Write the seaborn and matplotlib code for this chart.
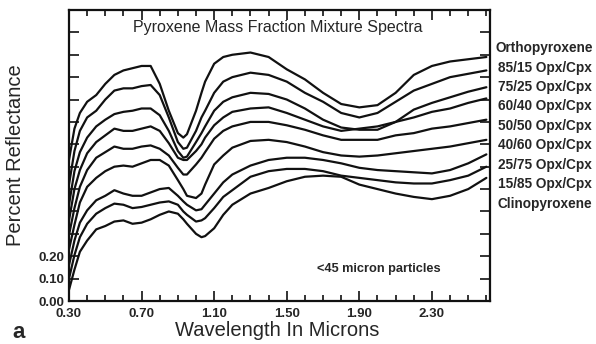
import matplotlib
matplotlib.use("Agg")
import matplotlib.pyplot as plt
from matplotlib.ticker import MultipleLocator
import pandas as pd
import seaborn as sns

# Wavelength grid (microns)
wavelength = [0.30, 0.33, 0.36, 0.40, 0.45, 0.50, 0.55, 0.60, 0.65, 0.70,
              0.75, 0.80, 0.85, 0.90, 0.93, 0.95, 1.00, 1.03, 1.05, 1.10,
              1.15, 1.20, 1.30, 1.40, 1.50, 1.60, 1.70, 1.80, 1.90, 2.00,
              2.10, 2.20, 2.30, 2.40, 2.50, 2.60]

# Reflectance of each mixture (Opx/Cpx mass fraction), top to bottom
orthopyroxene = [0.63, 0.77, 0.84, 0.89, 0.92, 0.97, 1.01, 1.03, 1.04, 1.05,
                 1.05, 0.97, 0.85, 0.75, 0.73, 0.745, 0.85, 0.93, 0.98, 1.06,
                 1.09, 1.10, 1.11, 1.09, 1.035, 0.99, 0.93, 0.88, 0.865, 0.875,
                 0.93, 1.01, 1.05, 1.07, 1.08, 1.09]
opx85_cpx15 = [0.52, 0.67, 0.76, 0.82, 0.85, 0.90, 0.94, 0.95, 0.95, 0.96,
               0.965, 0.92, 0.82, 0.71, 0.68, 0.685, 0.76, 0.82, 0.85, 0.93,
               0.98, 1.00, 1.02, 1.01, 0.98, 0.93, 0.89, 0.84, 0.82, 0.84,
               0.89, 0.94, 0.97, 1.00, 1.015, 1.03]
opx75_cpx25 = [0.43, 0.58, 0.665, 0.73, 0.78, 0.81, 0.835, 0.845, 0.85, 0.86,
               0.86, 0.83, 0.76, 0.67, 0.64, 0.645, 0.71, 0.75, 0.78, 0.85,
               0.89, 0.91, 0.93, 0.925, 0.90, 0.86, 0.81, 0.775, 0.765, 0.765,
               0.80, 0.855, 0.885, 0.91, 0.935, 0.955]
opx60_cpx40 = [0.36, 0.50, 0.585, 0.66, 0.71, 0.74, 0.77, 0.76, 0.76, 0.77,
               0.78, 0.76, 0.705, 0.64, 0.63, 0.63, 0.67, 0.70, 0.73, 0.785,
               0.82, 0.845, 0.86, 0.865, 0.84, 0.81, 0.78, 0.76, 0.77, 0.78,
               0.80, 0.82, 0.845, 0.86, 0.885, 0.905]
opx50_cpx50 = [0.295, 0.415, 0.51, 0.585, 0.64, 0.665, 0.69, 0.68, 0.68, 0.69,
               0.695, 0.68, 0.65, 0.595, 0.565, 0.565, 0.61, 0.64, 0.665, 0.725,
               0.76, 0.78, 0.80, 0.80, 0.785, 0.765, 0.74, 0.72, 0.72, 0.72,
               0.74, 0.75, 0.77, 0.78, 0.795, 0.81]
opx40_cpx60 = [0.23, 0.34, 0.44, 0.51, 0.55, 0.58, 0.60, 0.605, 0.60, 0.615,
               0.63, 0.63, 0.605, 0.54, 0.50, 0.47, 0.46, 0.48, 0.52, 0.61,
               0.65, 0.685, 0.715, 0.72, 0.71, 0.69, 0.665, 0.65, 0.645, 0.65,
               0.66, 0.67, 0.68, 0.69, 0.705, 0.72]
opx25_cpx75 = [0.16, 0.27, 0.35, 0.405, 0.45, 0.47, 0.495, 0.48, 0.47, 0.47,
               0.485, 0.50, 0.505, 0.47, 0.445, 0.43, 0.405, 0.41, 0.43, 0.48,
               0.53, 0.565, 0.605, 0.63, 0.64, 0.64, 0.63, 0.615, 0.595, 0.585,
               0.58, 0.575, 0.57, 0.585, 0.615, 0.655]
opx15_cpx85 = [0.10, 0.205, 0.285, 0.345, 0.39, 0.415, 0.435, 0.43, 0.415, 0.42,
               0.43, 0.44, 0.445, 0.43, 0.40, 0.385, 0.355, 0.36, 0.37, 0.415,
               0.465, 0.495, 0.555, 0.58, 0.59, 0.59, 0.58, 0.56, 0.55, 0.54,
               0.53, 0.525, 0.525, 0.54, 0.56, 0.60]
clinopyroxene = [0.05, 0.14, 0.22, 0.27, 0.32, 0.335, 0.355, 0.36, 0.345, 0.35,
                 0.365, 0.385, 0.40, 0.39, 0.365, 0.345, 0.30, 0.285, 0.29, 0.325,
                 0.385, 0.43, 0.48, 0.505, 0.535, 0.555, 0.56, 0.555, 0.52, 0.50,
                 0.48, 0.465, 0.455, 0.47, 0.50, 0.55]

series_names = ["Orthopyroxene", "85/15 Opx/Cpx", "75/25 Opx/Cpx", "60/40 Opx/Cpx",
                "50/50 Opx/Cpx", "40/60 Opx/Cpx", "25/75 Opx/Cpx", "15/85 Opx/Cpx",
                "Clinopyroxene"]
series_values = [orthopyroxene, opx85_cpx15, opx75_cpx25, opx60_cpx40, opx50_cpx50,
                 opx40_cpx60, opx25_cpx75, opx15_cpx85, clinopyroxene]

x_ticks = [0.30, 0.70, 1.10, 1.50, 1.90, 2.30]
x_tick_labels = ["0.30", "0.70", "1.10", "1.50", "1.90", "2.30"]
y_ticks = [0.0, 0.1, 0.2, 0.3, 0.4, 0.5, 0.6, 0.7, 0.8, 0.9, 1.0, 1.1, 1.2]
y_tick_labels = ["0.00", "0.10", "0.20"] + [""] * 10

frames = []
for name, vals in zip(series_names, series_values):
    frames.append(pd.DataFrame({"wavelength": wavelength, "reflectance": vals,
                                "mixture": name}))
spectra = pd.concat(frames, ignore_index=True)

sns.set_style("ticks")
plt.rcParams["font.family"] = ["Liberation Sans", "DejaVu Sans"]

fig = plt.figure(figsize=(5.96, 3.44), dpi=100)
ax = fig.add_axes([69 / 596, 1 - 301 / 344, 421 / 596, 291 / 344])

sns.lineplot(data=spectra, x="wavelength", y="reflectance", hue="mixture",
             hue_order=series_names, palette=["#111111"] * len(series_names),
             linewidth=1.6, legend=False, sort=False, estimator=None, ax=ax,
             solid_joinstyle="round", solid_capstyle="round")

ax.set_xlim(0.30, 2.62)
ax.set_ylim(0.0, 1.30)

# Ticks point inward on all four sides
ax.set_xticks(x_ticks)
ax.set_xticklabels(x_tick_labels, fontsize=9.5, fontweight="bold")
ax.xaxis.set_minor_locator(MultipleLocator(0.1))
ax.set_yticks(y_ticks)
ax.set_yticklabels(y_tick_labels, fontsize=9.5, fontweight="bold")
ax.tick_params(axis="both", which="both", direction="in", top=True, right=True,
               color="#111111", width=1.2)
ax.tick_params(axis="x", which="major", length=7, pad=5)
ax.tick_params(axis="x", which="minor", length=4)
ax.tick_params(axis="y", which="major", length=7, pad=3)
for side in ax.spines.values():
    side.set_linewidth(1.6)
    side.set_color("#111111")

ax.set_xlabel("Wavelength In Microns", fontsize=14.5)
ax.xaxis.set_label_coords(0.495, -0.068)
ax.set_ylabel("Percent Reflectance", fontsize=14.5)
ax.yaxis.set_label_coords(-0.104, 0.50)

ax.text(0.495, 0.94, "Pyroxene Mass Fraction Mixture Spectra", transform=ax.transAxes,
        ha="center", va="center", fontsize=11.5)
ax.text(0.735, 0.11, "<45 micron particles", transform=ax.transAxes,
        ha="center", va="center", fontsize=9.2, fontweight="bold")

# Series labels stacked beside the right axis
label_top = 1.13
label_step = 0.087
for i, name in enumerate(series_names):
    ax.text(1.13, (label_top - i * label_step) / 1.30, name, transform=ax.transAxes,
            ha="center", va="center", fontsize=9.8, fontweight="bold")

fig.text(12 / 596, 1 - 333 / 344, "a", fontsize=16, fontweight="bold",
         ha="left", va="center")

fig.savefig("out.png", dpi=100)
